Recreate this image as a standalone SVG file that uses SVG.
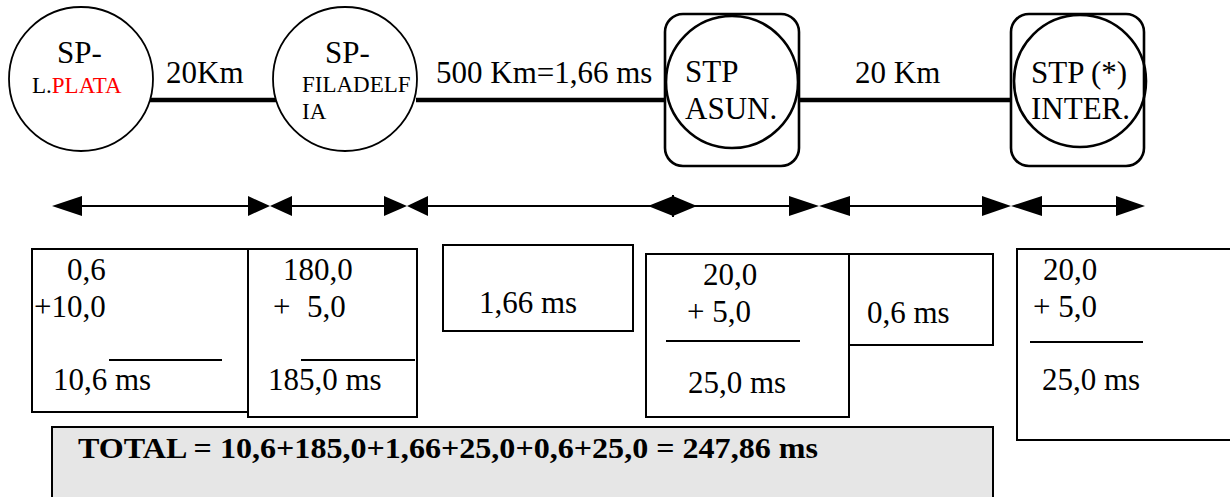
<svg xmlns="http://www.w3.org/2000/svg" width="1230" height="497" viewBox="0 0 1230 497" font-family="Liberation Serif, Tinos, Times New Roman, DejaVu Serif, serif">
<style>
text{font-family:"Liberation Serif","Tinos","Times New Roman","DejaVu Serif",serif;fill:#000}
.big{font-size:31px}
.sm{font-size:23px}
.red{fill:#ff0000}
.node{fill:#fff;stroke:#000;stroke-width:1.8}
.stp{fill:none;stroke:#000;stroke-width:2.6}
.box{fill:#fff;stroke:#000;stroke-width:2}
.link{stroke:#000;stroke-width:4.5;fill:none}
.dim{stroke:#000;stroke-width:2;fill:none}
.head{fill:#000;stroke:none}
.rule{stroke:#000;stroke-width:2.2}
.bold{font-weight:bold;font-size:29px}
</style>
<rect x="0" y="0" width="1230" height="497" fill="#fff"/>

<g id="connectors">
  <line class="link" x1="150" y1="100" x2="282" y2="100"/>
  <line class="link" x1="416" y1="100" x2="664" y2="100"/>
  <line class="link" x1="799" y1="100" x2="1012" y2="100"/>
  <g id="dimension-arrows">
    <line class="dim" x1="60" y1="206" x2="265" y2="206"/>
    <line class="dim" x1="275" y1="206" x2="400" y2="206"/>
    <line class="dim" x1="412" y1="206" x2="690" y2="206"/>
    <line class="dim" x1="655" y1="206" x2="812" y2="206"/>
    <line class="dim" x1="826" y1="206" x2="1004" y2="206"/>
    <line class="dim" x1="1018" y1="206" x2="1140" y2="206"/>
    <polygon class="head" points="52,206 82,196 82,216"/>
    <polygon class="head" points="270,206 248,196 248,216"/>
    <polygon class="head" points="270,206 292,196 292,216"/>
    <polygon class="head" points="407,206 384,196 384,216"/>
    <polygon class="head" points="407,206 428,196 428,216"/>
    <polygon class="head" points="697,206 673,196 673,216"/>
    <polygon class="head" points="648,206 673,196 673,216"/>
    <line x1="673" y1="195" x2="673" y2="217" stroke="#000" stroke-width="2"/>
    <polygon class="head" points="819,206 789,196 789,216"/>
    <polygon class="head" points="819,206 850,196 850,216"/>
    <polygon class="head" points="1011,206 982,196 982,216"/>
    <polygon class="head" points="1011,206 1042,196 1042,216"/>
    <polygon class="head" points="1145,206 1116,196 1116,216"/>
  </g>
</g>

<g id="sp-lplata">
  <circle class="node" cx="81" cy="79" r="72"/>
  <text class="big" x="57" y="63">SP-</text>
  <text class="sm" x="32" y="93">L.<tspan class="red">PLATA</tspan></text>
</g>
<text class="big" x="166" y="83">20Km</text>

<g id="sp-filadelfia">
  <circle class="node" cx="345" cy="79" r="72"/>
  <text class="big" x="325" y="63">SP-</text>
  <text class="sm" x="302" y="92">FILADELF</text>
  <text class="sm" x="302" y="119">IA</text>
</g>
<text class="big" x="436" y="83">500 Km=1,66 ms</text>

<g id="stp-asun">
  <rect class="stp" x="665" y="14" width="134" height="152" rx="18" ry="18"/>
  <circle class="stp" cx="732" cy="82" r="66"/>
  <text class="big" x="685" y="82">STP</text>
  <text class="big" x="685" y="119">ASUN.</text>
</g>
<text class="big" x="855" y="83">20 Km</text>

<g id="stp-inter">
  <rect class="stp" x="1011" y="14" width="133" height="152" rx="18" ry="18"/>
  <circle class="stp" cx="1080" cy="81" r="66"/>
  <text class="big" x="1031" y="83">STP (*)</text>
  <text class="big" x="1031" y="119">INTER.</text>
</g>

<g id="box1">
  <rect class="box" x="32" y="249" width="216" height="163"/>
  <text class="big" x="67" y="280">0,6</text>
  <text class="big" x="34" y="317">+10,0</text>
  <line class="rule" x1="109" y1="360" x2="222" y2="360"/>
  <text class="big" x="53" y="390">10,6 ms</text>
</g>

<g id="box2">
  <rect class="box" x="248" y="249" width="169" height="168"/>
  <text class="big" x="283" y="280">180,0</text>
  <text class="big" x="273" y="317">+</text>
  <text class="big" x="307" y="317">5,0</text>
  <line class="rule" x1="301" y1="360" x2="415" y2="360"/>
  <text class="big" x="268" y="390">185,0 ms</text>
</g>

<g id="box3">
  <rect class="box" x="443" y="245" width="190" height="86"/>
  <text class="big" x="479" y="313">1,66 ms</text>
</g>

<g id="box4">
  <rect class="box" x="646" y="254" width="203" height="163"/>
  <text class="big" x="703" y="285">20,0</text>
  <text class="big" x="687" y="322">+ 5,0</text>
  <line class="rule" x1="666" y1="341" x2="800" y2="341"/>
  <text class="big" x="688" y="393">25,0 ms</text>
</g>

<g id="box5">
  <rect class="box" x="849" y="254" width="144" height="91"/>
  <text class="big" x="867" y="323">0,6 ms</text>
</g>

<g id="box6">
  <rect class="box" x="1017" y="249" width="220" height="191"/>
  <text class="big" x="1043" y="280">20,0</text>
  <text class="big" x="1033" y="317">+ 5,0</text>
  <line class="rule" x1="1030" y1="342" x2="1143" y2="342"/>
  <text class="big" x="1042" y="390">25,0 ms</text>
</g>

<g id="total">
  <rect x="52" y="427" width="941" height="90" fill="#e6e6e6" stroke="#000" stroke-width="2"/>
  <text class="bold" x="78" y="458" textLength="740" lengthAdjust="spacingAndGlyphs">TOTAL = 10,6+185,0+1,66+25,0+0,6+25,0 = 247,86 ms</text>
</g>
</svg>
